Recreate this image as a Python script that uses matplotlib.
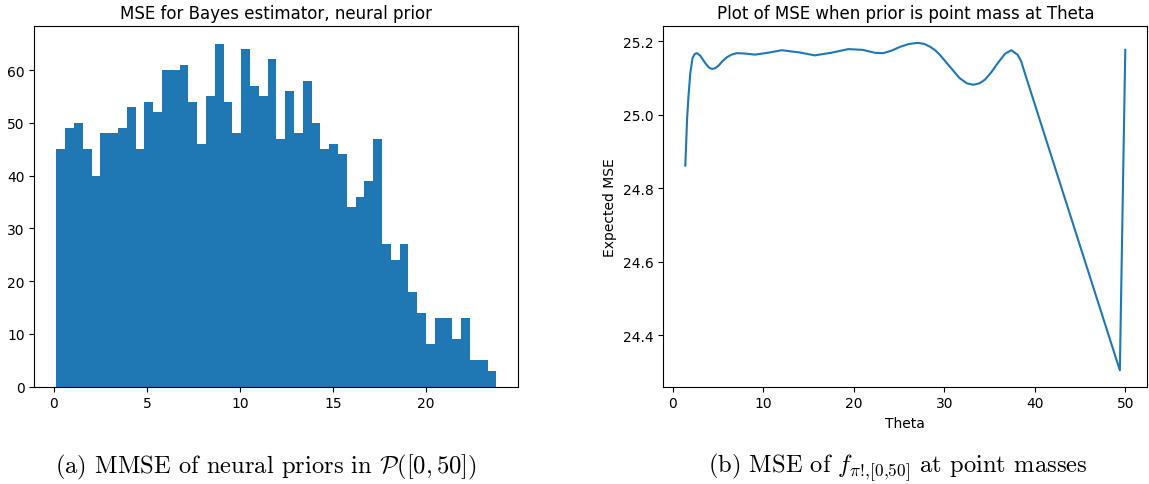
import numpy as np
import matplotlib
matplotlib.use("Agg")
import matplotlib.pyplot as plt

plt.rcParams['mathtext.fontset'] = 'cm'

# histogram of MMSE values (50 equal bins)
hist_lo, hist_hi = 0.13, 23.79
hist_counts = [45, 49, 50, 45, 40, 48, 48, 49, 53, 45,
               54, 52, 60, 60, 61, 54, 46, 55, 65, 54,
               48, 64, 57, 55, 62, 47, 56, 48, 58, 50,
               45, 46, 44, 34, 36, 39, 47, 27, 24, 27,
               18, 14, 8, 13, 13, 9, 13, 5, 5, 3]

# expected MSE against theta
theta = [1.4, 1.6, 1.75, 1.95, 2.2, 2.45, 2.7, 3.05, 3.6, 4.0,
         4.35, 4.7, 5.07, 5.5, 6.0, 6.5, 7.1, 8.0, 9.1, 10.5,
         12.06, 14.0, 15.7, 17.5, 19.4, 21.0, 22.35, 23.26, 24.2, 25.1,
         26.1, 27.1, 27.8, 28.4, 29.0, 29.5, 30.6, 31.7, 32.5, 33.2,
         33.9, 34.5, 35.2, 35.8, 36.7, 37.4, 38.1, 38.5, 38.9, 49.4,
         50.0]
mse = [24.861, 24.99, 25.05, 25.113, 25.154, 25.165, 25.167, 25.160, 25.140, 25.128,
       25.124, 25.126, 25.133, 25.145, 25.156, 25.163, 25.167, 25.166, 25.163, 25.168,
       25.175, 25.169, 25.161, 25.168, 25.178, 25.176, 25.168, 25.167, 25.174, 25.184,
       25.192, 25.195, 25.192, 25.185, 25.175, 25.163, 25.131, 25.099, 25.085, 25.081,
       25.085, 25.095, 25.115, 25.136, 25.165, 25.175, 25.163, 25.145, 25.113, 24.304,
       25.176]

fig = plt.figure(figsize=(11.49, 4.85), dpi=100)
ax1 = fig.add_axes([0.0299, 0.2006, 0.4212, 0.7427])
ax2 = fig.add_axes([0.5773, 0.2006, 0.4212, 0.7427])

edges = np.linspace(hist_lo, hist_hi, len(hist_counts) + 1)
centers = (edges[:-1] + edges[1:]) / 2
ax1.hist(centers, bins=edges, weights=hist_counts, color='#1f77b4')
ax1.set_title('MSE for Bayes estimator, neural prior')

ax2.plot(theta, mse, color='#1f77b4')
ax2.set_title('Plot of MSE when prior is point mass at Theta')
ax2.set_xlabel('Theta')
ax2.set_ylabel('Expected MSE')
ax2.set_yticks([24.4, 24.6, 24.8, 25.0, 25.2])

fig.text(0.2311, 0.0247, r'(a) MMSE of neural priors in $\mathcal{P}([0,50])$',
         family='cmr10', fontsize=17.7, ha='center', va='baseline')
fig.text(0.7816, 0.0247, r'(b) MSE of $f_{\pi!\!{,}[0{,}50]}$ at point masses',
         family='cmr10', fontsize=17.7, ha='center', va='baseline')

fig.savefig('out.png', dpi=100)
